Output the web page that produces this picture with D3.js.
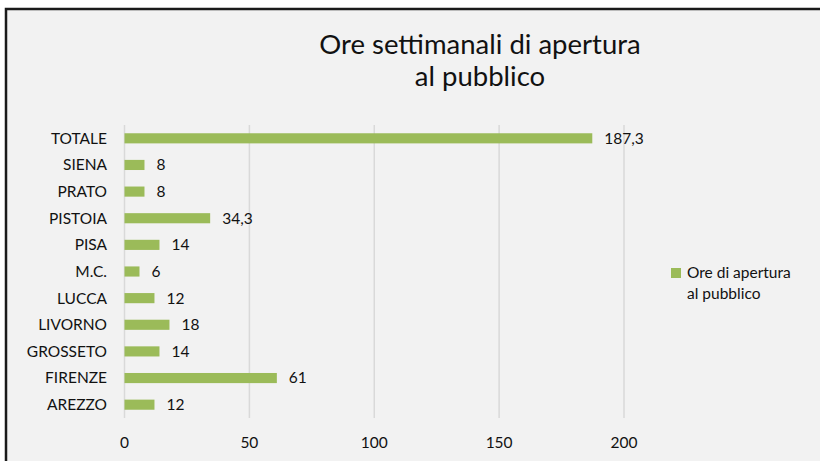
<!DOCTYPE html>
<html lang="it">
<head>
  <meta charset="UTF-8">
  <title>Ore settimanali di apertura al pubblico</title>
  <style>
    body { margin: 0; background: #fff; }
    svg { display: block; font-family: Lato, "Open Sans", sans-serif; }
  </style>
</head>
<body>
  <div id="chart"></div>
  <script src="https://d3js.org/d3.v7.min.js"></script>
  <script>
    const categories = ["TOTALE", "SIENA", "PRATO", "PISTOIA", "PISA", "M.C.", "LUCCA", "LIVORNO", "GROSSETO", "FIRENZE", "AREZZO"];
    const values = [187.3, 8, 8, 34.3, 14, 6, 12, 18, 14, 61, 12];
    const ticks = [0, 50, 100, 150, 200];
    const seriesName = ["Ore di apertura", "al pubblico"];
    const titleLines = ["Ore settimanali di apertura", "al pubblico"];

    const width = 820,
          height = 461,
          margin = {top: 125, right: 196, bottom: 43, left: 124.5};

    const green = "#9bbb59";
    const textColor = "#111";
    const itLocale = d3.formatLocale({decimal: ",", thousands: ".", grouping: [3], currency: ["€", ""]});
    const fmt = itLocale.format("~g");

    const svg = d3.select("#chart")
      .append("svg")
      .attr("width", width)
      .attr("height", height);

    // chart area background + border
    svg.append("rect")
      .attr("x", 6)
      .attr("y", 9)
      .attr("width", width + 10)
      .attr("height", height + 10)
      .attr("fill", "#f2f2f2")
      .attr("stroke", "#1a1a1a")
      .attr("stroke-width", 2.5);

    const x = d3.scaleLinear([0, 200], [margin.left, width - margin.right]);
    const y = d3.scaleBand(categories, [margin.top, height - margin.bottom])
      .paddingInner(0.62)
      .paddingOuter(0.31);

    // gridlines
    svg.append("g")
      .selectAll("line")
      .data(ticks)
      .join("line")
      .attr("x1", d => x(d))
      .attr("x2", d => x(d))
      .attr("y1", margin.top)
      .attr("y2", height - margin.bottom)
      .attr("stroke", "#d9d9d9")
      .attr("stroke-width", 1.5);

    // x tick labels
    svg.append("g")
      .selectAll("text")
      .data(ticks)
      .join("text")
      .attr("x", d => x(d))
      .attr("y", 448)
      .attr("text-anchor", "middle")
      .style("font-size", "15.5px")
      .attr("fill", textColor)
      .text(d => d);

    // category labels
    svg.append("g")
      .selectAll("text")
      .data(categories)
      .join("text")
      .attr("x", 107)
      .attr("y", d => y(d) + y.bandwidth() / 2)
      .attr("dy", "0.35em")
      .attr("text-anchor", "end")
      .style("font-size", "15.5px")
      .attr("fill", textColor)
      .text(d => d);

    // bars
    svg.append("g")
      .selectAll("rect")
      .data(values)
      .join("rect")
      .attr("x", x(0))
      .attr("y", (d, i) => y(categories[i]))
      .attr("width", d => x(d) - x(0))
      .attr("height", y.bandwidth())
      .attr("fill", green);

    // value labels
    svg.append("g")
      .selectAll("text")
      .data(values)
      .join("text")
      .attr("x", d => x(d) + 12)
      .attr("y", (d, i) => y(categories[i]) + y.bandwidth() / 2)
      .attr("dy", "0.35em")
      .style("font-size", "15.5px")
      .attr("fill", textColor)
      .text(d => fmt(d));

    // title
    svg.append("g")
      .selectAll("text")
      .data(titleLines)
      .join("text")
      .attr("x", 480)
      .attr("y", (d, i) => 54 + i * 32)
      .attr("text-anchor", "middle")
      .style("font-size", "27.5px")
      .attr("fill", textColor)
      .text(d => d);

    // legend
    svg.append("rect")
      .attr("x", 671)
      .attr("y", 268)
      .attr("width", 10)
      .attr("height", 10)
      .attr("fill", green);

    svg.append("g")
      .selectAll("text")
      .data(seriesName)
      .join("text")
      .attr("x", 687)
      .attr("y", (d, i) => 278 + i * 21)
      .style("font-size", "15.5px")
      .attr("fill", textColor)
      .text(d => d);
  </script>
</body>
</html>
